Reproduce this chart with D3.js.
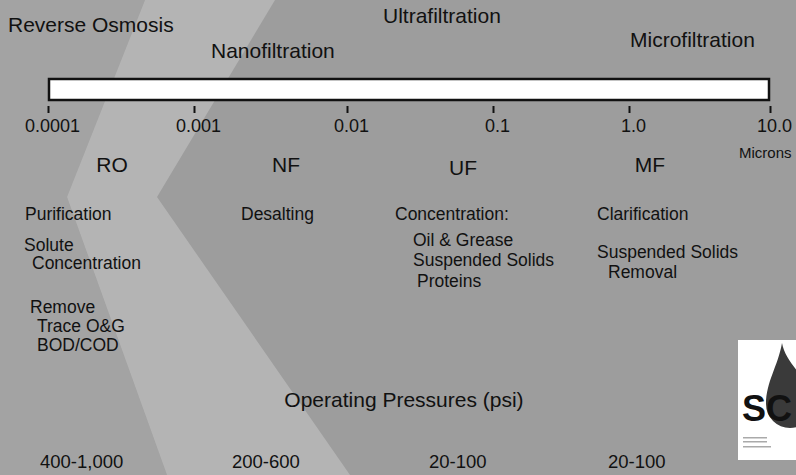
<!DOCTYPE html>
<html>
<head>
<meta charset="utf-8">
<script src="https://cdn.jsdelivr.net/npm/d3@7"></script>
<style>
  body { margin: 0; background: #9f9f9f; }
  svg { display: block; }
  text { font-family: "Liberation Sans", Arial, sans-serif; fill: #111; }
</style>
</head>
<body>
<div id="chart"></div>
<script>
// pore size scale, microns
var sizes = [0.0001, 0.001, 0.01, 0.1, 1, 10];
var sizeLabels = ['0.0001', '0.001', '0.01', '0.1', '1.0', '10.0'];

var processes = ['Reverse Osmosis', 'Nanofiltration', 'Ultrafiltration', 'Microfiltration'];
var abbrevs = ['RO', 'NF', 'UF', 'MF'];
var pressures = ['400-1,000', '200-600', '20-100', '20-100'];

var roUses = ['Purification', 'Solute', 'Concentration', 'Remove', 'Trace O&G', 'BOD/COD'];
var nfUses = ['Desalting'];
var ufUses = ['Concentration:', 'Oil & Grease', 'Suspended Solids', 'Proteins'];
var mfUses = ['Clarification', 'Suspended Solids', 'Removal'];

// layout (pixel positions)
var width = 796, height = 475;
var tickPx = [48, 194, 347, 493, 629, 770];
var processPos = [[8, 32], [211, 58], [383, 23], [630, 47]];
var abbrevPos = [[112, 172], [286, 172], [463, 175], [650, 172]];
var pressureX = [40, 232, 429, 608];
var usePos = [
    [[25, 220], [24, 251], [32, 269], [30, 313], [37, 332], [37, 351]],
    [[241, 220]],
    [[395, 220], [413, 246], [413, 266], [417, 287]],
    [[597, 220], [597, 258], [608, 278]]
];

var svg = d3.select('#chart').append('svg')
    .attr('width', width)
    .attr('height', height);

// background with the lighter chevron band
svg.append('rect')
    .attr('width', width).attr('height', height)
    .attr('fill', '#9d9d9d');
svg.append('polygon')
    .attr('points', '0,0 145,0 67,197 167,475 0,475')
    .attr('fill', '#a3a3a3');
svg.append('polygon')
    .attr('points', '145,0 275,0 157,197 350,475 167,475 67,197')
    .attr('fill', '#b4b4b4');

var x = d3.scaleLog()
    .domain(sizes)
    .range(tickPx);

// white bar
svg.append('rect')
    .attr('x', x(0.0001) + 1)
    .attr('y', 79)
    .attr('width', x(10) - x(0.0001) - 2)
    .attr('height', 21)
    .attr('fill', 'white')
    .attr('stroke', '#111')
    .attr('stroke-width', 2.5);

var axis = d3.axisBottom(x)
    .tickValues(sizes)
    .tickSize(7)
    .tickPadding(12)
    .tickFormat((d, i) => sizeLabels[i]);

var gAxis = svg.append('g')
    .attr('transform', 'translate(0,106)')
    .call(axis);
gAxis.select('.domain').remove();
gAxis.selectAll('.tick line').attr('stroke', '#111').attr('stroke-width', 2);
gAxis.selectAll('.tick text')
    .attr('x', 4)
    .attr('y', 26)
    .attr('dy', 0)
    .style('font-size', '18px')
    .style('font-family', '"Liberation Sans", Arial, sans-serif')
    .attr('fill', '#111');

svg.append('text')
    .attr('x', 739).attr('y', 158)
    .style('font-size', '15px')
    .text('Microns');

// process names
svg.selectAll('.proc')
    .data(processes)
    .enter()
    .append('text')
    .attr('class', 'proc')
    .attr('x', (d, i) => processPos[i][0])
    .attr('y', (d, i) => processPos[i][1])
    .style('font-size', '21px')
    .text(d => d);

svg.selectAll('.abbr')
    .data(abbrevs)
    .enter()
    .append('text')
    .attr('class', 'abbr')
    .attr('x', (d, i) => abbrevPos[i][0])
    .attr('y', (d, i) => abbrevPos[i][1])
    .attr('text-anchor', 'middle')
    .style('font-size', '21px')
    .text(d => d);

// applications
[roUses, nfUses, ufUses, mfUses].forEach(function (uses, c) {
    svg.selectAll('.use-' + c)
        .data(uses)
        .enter()
        .append('text')
        .attr('class', 'use-' + c)
        .attr('x', (d, i) => usePos[c][i][0])
        .attr('y', (d, i) => usePos[c][i][1])
        .style('font-size', '17.5px')
        .text(d => d);
});

svg.append('text')
    .attr('x', 404).attr('y', 407)
    .attr('text-anchor', 'middle')
    .style('font-size', '21px')
    .text('Operating Pressures (psi)');

svg.selectAll('.psi')
    .data(pressures)
    .enter()
    .append('text')
    .attr('class', 'psi')
    .attr('x', (d, i) => pressureX[i])
    .attr('y', 468)
    .style('font-size', '18.5px')
    .text(d => d);

// logo in the corner
var logo = svg.append('g');
logo.append('rect')
    .attr('x', 738).attr('y', 340)
    .attr('width', 60).attr('height', 120)
    .attr('fill', 'white');
logo.append('path')
    .attr('d', 'M782,343 C786,366 814,382 814,404 A24,24 0 1,1 766,404 C766,382 778,366 782,343 Z')
    .attr('fill', '#3a3a3a');
logo.append('text')
    .attr('x', 742).attr('y', 421)
    .style('font-size', '36px')
    .style('font-weight', 'bold')
    .text('SC');
[437, 441, 446].forEach(function (yy, i) {
    logo.append('rect')
        .attr('x', 743).attr('y', yy)
        .attr('width', i == 2 ? 28 : 24).attr('height', 1.5)
        .attr('fill', '#aaa');
});
</script>
</body>
</html>
